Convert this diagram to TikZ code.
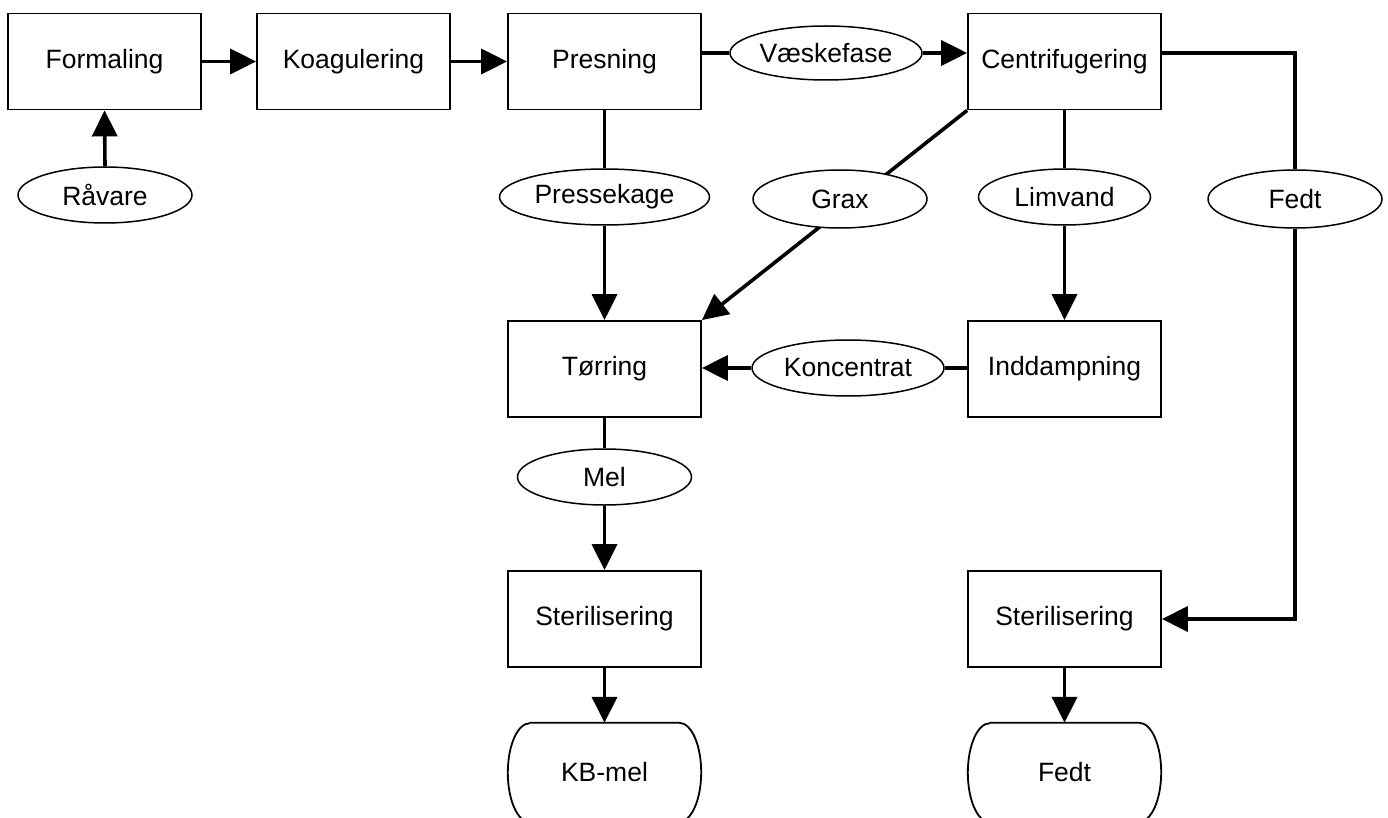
\documentclass[tikz,border=0pt]{standalone}
\usepackage{fontspec}
\setmainfont{Liberation Sans}
\usetikzlibrary{arrows.meta,shapes.geometric}
\tikzset{
  procbox/.style={draw, line width=1.8pt, minimum width=193pt, minimum height=96pt, inner sep=0pt, font=\fontsize{26.5}{31}\selectfont},
  flowlbl/.style={draw, ellipse, line width=1.5pt, fill=white, inner sep=0pt, font=\fontsize{26.5}{31}\selectfont},
  termtxt/.style={minimum width=193pt, minimum height=99pt, inner sep=0pt, font=\fontsize{26.5}{31}\selectfont},
  conn/.style={line width=3.6pt},
  arr/.style={conn, -{Triangle[length=26pt,width=25pt]}},
}
\begin{document}
\begin{tikzpicture}[x=1pt,y=-1pt]
\useasboundingbox (0,0) rectangle (1388,818);
% process boxes
\node[procbox] (form) at (104.5,61.5) {Formaling};
\node[procbox] (koag) at (353.5,61.5) {Koagulering};
\node[procbox] (pres) at (604.5,61.5) {Presning};
\node[procbox] (cent) at (1064.5,61.5) {Centrifugering};
\node[procbox] (torr) at (604.5,369) {Tørring};
\node[procbox] (indd) at (1064.5,369) {Inddampning};
\node[procbox] (sterA) at (604.5,619) {Sterilisering};
\node[procbox] (sterB) at (1064.5,619) {Sterilisering};
% terminals
\node[termtxt] (kb) at (604.5,772.5) {KB-mel};
\node[termtxt] (fedtT) at (1064.5,772.5) {Fedt};
\foreach \t in {kb,fedtT}{
  \draw[line width=1.8pt] ([xshift=22pt]\t.north west) -- ([xshift=-22pt]\t.north east)
    arc[start angle=90,end angle=-90,x radius=22pt,y radius=49.5pt]
    -- ([xshift=22pt]\t.south west)
    arc[start angle=270,end angle=90,x radius=22pt,y radius=49.5pt];
}
% Grax line (straight, behind its label)
\draw[arr] (cent.south west) -- (torr.north east);
% flow labels
\node[flowlbl, minimum width=174pt, minimum height=56pt] (rav) at (105,195) {Råvare};
\node[flowlbl, minimum width=192pt, minimum height=54pt] (vaesk) at (826,53) {Væskefase};
\node[flowlbl, minimum width=210pt, minimum height=56pt] (press) at (604.5,197) {Pressekage};
\node[flowlbl, minimum width=174pt, minimum height=58pt] (grax) at (840,199) {Grax};
\node[flowlbl, minimum width=172pt, minimum height=56pt] (limv) at (1064.5,197) {Limvand};
\node[flowlbl, minimum width=174pt, minimum height=58pt] (fedt) at (1295,199) {Fedt};
\node[flowlbl, minimum width=192pt, minimum height=56pt] (konc) at (848,368) {Koncentrat};
\node[flowlbl, minimum width=174pt, minimum height=56pt] (mel) at (604.5,477) {Mel};
% connectors
\draw[arr] (rav.north) -- (form.south);
\draw[arr] (form.east) -- (koag.west);
\draw[arr] (koag.east) -- (pres.west);
\draw[conn] (pres.east |- vaesk.west) -- (vaesk.west);
\draw[arr] (vaesk.east) -- (vaesk.east -| cent.west);
\draw[conn] (pres.south) -- (press.north);
\draw[arr] (press.south) -- (torr.north);
\draw[conn] (cent.south) -- (limv.north);
\draw[arr] (limv.south) -- (indd.north);
\draw[conn] (cent.east |- vaesk.east) -| (fedt.north);
\draw[arr] (fedt.south) |- (sterB.east);
\draw[conn] (indd.west |- konc.east) -- (konc.east);
\draw[arr] (konc.west) -- (konc.west -| torr.east);
\draw[conn] (torr.south) -- (mel.north);
\draw[arr] (mel.south) -- (sterA.north);
\draw[arr] (sterA.south) -- (kb.north);
\draw[arr] (sterB.south) -- (fedtT.north);
\end{tikzpicture}
\end{document}
